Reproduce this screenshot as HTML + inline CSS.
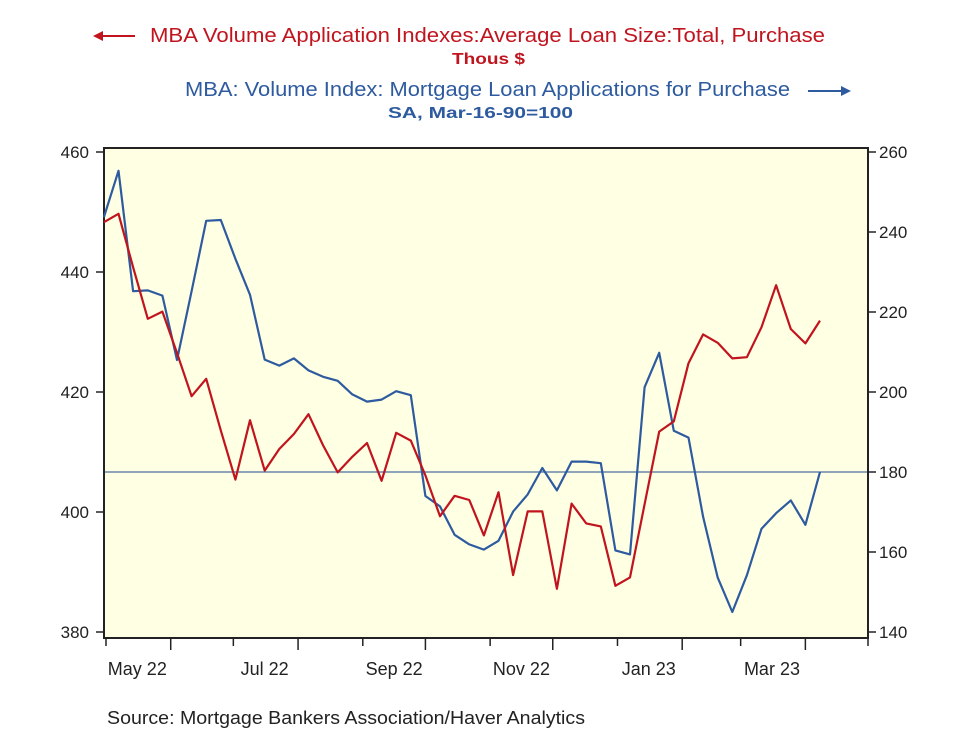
<!DOCTYPE html>
<html><head><meta charset="utf-8">
<style>
body{margin:0;background:#fff;width:977px;height:731px;overflow:hidden;font-family:"Liberation Sans",sans-serif;}
svg{display:block}
</style></head>
<body>
<svg id="chart" width="977" height="731" xmlns="http://www.w3.org/2000/svg">
  <g>
    <g>
      <line x1="95" y1="36" x2="135" y2="36" stroke="#c0141e" stroke-width="2"/>
      <path d="M93 36 L103 31 L103 41 Z" fill="#c0141e"/>
      <text x="150" y="42" textLength="675" lengthAdjust="spacingAndGlyphs" font-size="20" fill="#c0141e">MBA Volume Application Indexes:Average Loan Size:Total, Purchase</text>
      <text x="452" y="64" textLength="73" lengthAdjust="spacingAndGlyphs" font-size="16" font-weight="bold" fill="#c0141e">Thous $</text>
    </g>
    <g>
      <text x="185" y="96" textLength="605" lengthAdjust="spacingAndGlyphs" font-size="20" fill="#2e5b9f">MBA: Volume Index: Mortgage Loan Applications for Purchase</text>
      <line x1="808" y1="91" x2="846" y2="91" stroke="#2e5b9f" stroke-width="2"/>
      <path d="M851 91 L841 86 L841 96 Z" fill="#2e5b9f"/>
      <text x="388" y="118" textLength="185" lengthAdjust="spacingAndGlyphs" font-size="16" font-weight="bold" fill="#2e5b9f">SA, Mar-16-90=100</text>
    </g>
  </g>
  <rect x="104" y="148" width="764" height="490" fill="#ffffe3" stroke="#222" stroke-width="2"/>
  <g id="axes"></g>
  <g id="marks"></g>
  <text x="107" y="724" textLength="478" lengthAdjust="spacingAndGlyphs" font-size="18" fill="#222">Source:  Mortgage Bankers Association/Haver Analytics</text>
</svg>
<script>
const startDate = "2022-04-30";
const loanSize = [448.3,449.7,440.8,432.2,433.4,426.5,419.3,422.2,413.6,405.4,415.3,406.9,410.5,413.0,416.3,411.1,406.6,409.2,411.5,405.2,413.2,411.9,406.1,399.3,402.7,402.0,396.1,403.3,389.5,400.1,400.1,387.2,401.4,398.1,397.6,387.7,389.1,401.3,413.4,415.1,424.8,429.6,428.2,425.6,425.8,430.8,437.8,430.5,428.1,431.9];
const volumeIndex = [243.7,255.3,225.2,225.4,224.1,208.0,225.2,242.8,243.0,233.3,224.3,208.1,206.6,208.4,205.4,203.8,202.8,199.4,197.6,198.1,200.2,199.2,174.0,171.4,164.3,161.9,160.6,162.8,170.1,174.4,181.0,175.4,182.6,182.6,182.2,160.4,159.4,201.2,209.8,190.3,188.6,168.8,153.6,145.0,154.2,165.8,169.7,172.9,166.8,180.0];
const leftTicks = [380,400,420,440,460];
const rightTicks = [140,160,180,200,220,240,260];
const refLine = [180];
const monthTicks = ["2022-05-01","2022-06-01","2022-07-01","2022-08-01","2022-09-01","2022-10-01","2022-11-01","2022-12-01","2023-01-01","2023-02-01","2023-03-01","2023-04-01","2023-05-01"];
const monthLabels = ["May 22","Jul 22","Sep 22","Nov 22","Jan 23","Mar 23"];
const monthLabelDates = ["2022-05-16","2022-07-16","2022-09-16","2022-11-16","2023-01-16","2023-03-16"];

const NS="http://www.w3.org/2000/svg";
const D0=Date.parse("2022-05-01"), D1=Date.parse("2023-05-01");
function xDate(s){return 106+(Date.parse(s)-D0)/(D1-D0)*762;}
function xIdx(i){return 106+(Date.parse(startDate)+i*7*864e5-D0)/(D1-D0)*762;}
function yL(v){return 152+(460-v)*6;}
function yR(v){return 152+(260-v)*4;}
function mk(tag,attrs,parent){const e=document.createElementNS(NS,tag);for(const k in attrs)e.setAttribute(k,attrs[k]);parent.appendChild(e);return e;}
const axes=document.getElementById('axes'), marks=document.getElementById('marks');

leftTicks.forEach(v=>{
  const t=mk('line',{x1:96,x2:104,y1:yL(v),y2:yL(v),stroke:'#222','stroke-width':1.5},axes);
  
  
  const l=mk('text',{x:89,y:yL(v)+6,'text-anchor':'end','font-size':17,fill:'#222'},axes);
  l.textContent=v;
  
  
});
rightTicks.forEach(v=>{
  const t=mk('line',{x1:868,x2:876,y1:yR(v),y2:yR(v),stroke:'#222','stroke-width':1.5},axes);
  
  
  const l=mk('text',{x:879,y:yR(v)+6,'font-size':17,fill:'#222'},axes);
  l.textContent=v;
  
  
});
monthTicks.forEach((d,i)=>{
  const x=xDate(d);
  const t=mk('line',{x1:x,x2:x,y1:638,y2:(i%2?650:646),stroke:'#222','stroke-width':1.5},axes);
  
  
});
monthLabels.forEach((s,i)=>{
  const l=mk('text',{x:xDate(monthLabelDates[i]),y:675,'text-anchor':'middle','font-size':18,fill:'#222'},axes);
  l.textContent=s;
  
  
});
refLine.forEach(v=>{
  const r=mk('line',{x1:105,x2:867,y1:yR(v),y2:yR(v),stroke:'#4a6e9e','stroke-width':1.2},marks);
  
  
});
const vp=mk('polyline',{points:volumeIndex.map((v,i)=>xIdx(i).toFixed(1)+','+yR(v).toFixed(1)).join(' '),fill:'none',stroke:'#2e5b9f','stroke-width':2.2,'stroke-linejoin':'round'},marks);


const lp=mk('polyline',{points:loanSize.map((v,i)=>xIdx(i).toFixed(1)+','+yL(v).toFixed(1)).join(' '),fill:'none',stroke:'#c0141e','stroke-width':2.2,'stroke-linejoin':'round'},marks);


</script>
</body></html>
